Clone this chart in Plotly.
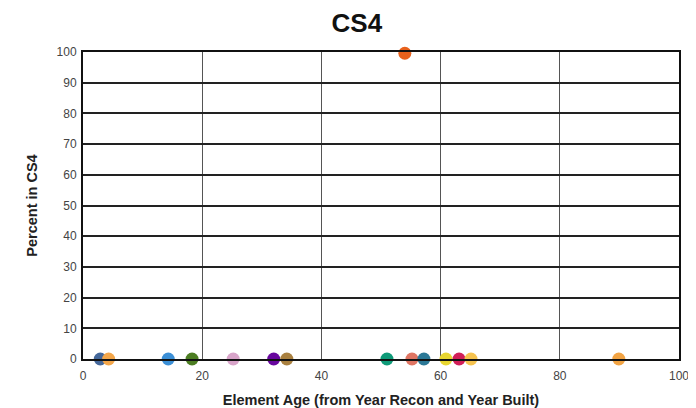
import plotly.graph_objects as go

ages = [2.9, 4.3, 14.3, 18.3, 25.2, 32.0, 34.2, 51.0, 55.2, 57.2, 60.9, 63.1, 65.1, 89.9, 54.0]
pct_cs4 = [0, 0, 0, 0, 0, 0, 0, 0, 0, 0, 0, 0, 0, 0, 99.6]
colors = ["#44679a", "#f3a64a", "#3b8fd6", "#4c7d22", "#d8a4c9", "#68079e", "#a9803f",
          "#0e9a78", "#df7563", "#2b7896", "#e8d631", "#d11e58", "#f6c34f", "#f2a444", "#e8611c"]
x_ticks = [0, 20, 40, 60, 80, 100]
y_ticks = list(range(0, 101, 10))

fig = go.Figure()
fig.add_trace(go.Scatter(
    x=ages, y=pct_cs4, mode="markers",
    marker=dict(size=13, color=colors, line=dict(width=0)),
    cliponaxis=False, showlegend=False,
))

font = "Liberation Sans, Arial, sans-serif"
fig.update_layout(
    width=680, height=400,
    margin=dict(l=75, r=9, t=44, b=49, autoexpand=False),
    paper_bgcolor="white", plot_bgcolor="white",
    font=dict(family=font, size=12, color="#444444"),
    title=dict(text="<b>CS4</b>", x=0.513, xanchor="center",
               y=1 - 14.5 / 400, yanchor="middle", font=dict(size=26, color="#111111", family=font)),
    xaxis=dict(range=[0, 100], tickvals=x_ticks, showgrid=True, gridcolor="#555555", gridwidth=1,
               showline=True, linecolor="#111111", linewidth=2, mirror=True, zeroline=False,
               ticks="", ticklen=0, ticklabelstandoff=5, automargin=False,
               ticklabeloverflow="allow",
               title=dict(text="<b>Element Age (from Year Recon and Year Built)</b>",
                          font=dict(size=14.5, color="#222222"), standoff=16)),
    yaxis=dict(range=[0, 100], tickvals=y_ticks, showgrid=True, gridcolor="#222222", gridwidth=1.5,
               showline=True, linecolor="#111111", linewidth=2, mirror=True, zeroline=False,
               ticks="", ticklen=0, ticklabelstandoff=2, automargin=False,
               ticklabeloverflow="allow",
               title=dict(text="<b>Percent in CS4</b>", font=dict(size=14.5, color="#222222"), standoff=15)),
)
fig.write_html("out.html")
